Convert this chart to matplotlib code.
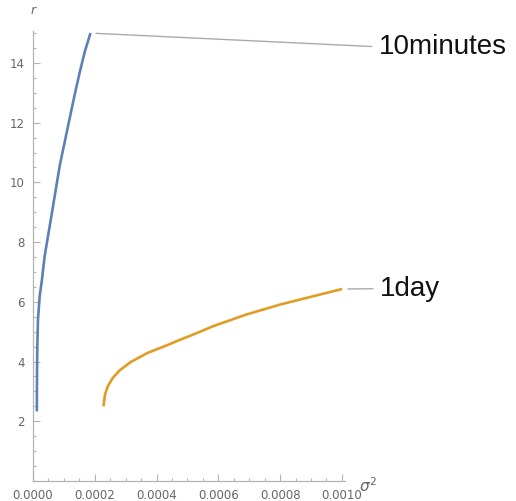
import matplotlib.pyplot as plt
from matplotlib.ticker import MultipleLocator, FixedLocator, FuncFormatter

# variance vs r, two horizons
r_10min = [2.33, 3.0, 3.8, 4.5, 5.4, 6.18, 6.74, 7.52, 8.19, 8.98, 9.81,
           10.59, 11.37, 12.16, 12.94, 13.72, 14.39, 15.0]
var_10min = [0.0000125, 0.0000127, 0.0000132, 0.0000140, 0.0000161, 0.0000215,
             0.0000290, 0.0000376, 0.0000484, 0.0000613, 0.0000745, 0.0000871,
             0.000103, 0.000119, 0.000135, 0.000152, 0.000168, 0.000186]

r_1day = [2.50, 2.89, 3.17, 3.45, 3.70, 3.99, 4.29, 4.51, 4.73, 4.96,
          5.18, 5.57, 5.90, 6.18, 6.43]
var_1day = [0.000228, 0.000233, 0.000242, 0.000258, 0.000280, 0.000317,
             0.000371, 0.000425, 0.000476, 0.000532, 0.000582, 0.000689,
             0.000797, 0.000904, 0.001001]

labels = ['10minutes', '1day']
label_pos = [(0.001119, 14.54), (0.001123, 6.44)]

blue = '#5E81B5'
orange = '#E19C24'
axis_gray = '#b3b3b3'
text_gray = '#666666'

fig = plt.figure(figsize=(5.16, 5.01), dpi=100)
ax = fig.add_axes([33 / 516, 20 / 501, 312 / 516, 450 / 501])

ax.plot(var_10min, r_10min, color=blue, lw=1.9, solid_capstyle='butt')
ax.plot(var_1day, r_1day, color=orange, lw=1.9, solid_capstyle='butt')

for (xs, ys), text, pos in zip([(var_10min, r_10min), (var_1day, r_1day)], labels, label_pos):
    ax.annotate(text, xy=(xs[-1], ys[-1]), xytext=pos, textcoords='data',
                ha='left', va='center', fontsize=20, family='Liberation Sans', color='#111111',
                annotation_clip=False,
                arrowprops=dict(arrowstyle='-', color='#aaaaaa', lw=1.0,
                                relpos=(0, 0.5), shrinkA=3, shrinkB=4))

ax.set_xlim(0, 0.00101)
ax.set_ylim(0, 15.07)

for side in ['top', 'right']:
    ax.spines[side].set_visible(False)
for side in ['left', 'bottom']:
    ax.spines[side].set_color(axis_gray)
    ax.spines[side].set_linewidth(0.9)
    ax.spines[side].set_position(('data', 0))

ax.xaxis.set_major_locator(FixedLocator([0, 0.0002, 0.0004, 0.0006, 0.0008, 0.0010]))
ax.xaxis.set_minor_locator(MultipleLocator(0.00005))
ax.xaxis.set_major_formatter(FuncFormatter(lambda v, p: f'{v:.4f}'))
ax.yaxis.set_major_locator(FixedLocator([2, 4, 6, 8, 10, 12, 14]))
ax.yaxis.set_minor_locator(MultipleLocator(0.5))

ax.tick_params(which='both', direction='in', color=axis_gray, width=0.8,
               labelcolor=text_gray, labelsize=8.5)
ax.tick_params(which='major', length=5)
ax.tick_params(which='minor', length=2.5)
ax.tick_params(axis='x', pad=6)
ax.tick_params(axis='y', pad=6)

ax.text(0, 1.045, 'r', transform=ax.transAxes, ha='center', va='center',
        fontsize=9, style='italic', color=text_gray)
ax.text(1.075, -0.01, r'$\sigma^2$', transform=ax.transAxes, ha='center', va='center',
        fontsize=11, color=text_gray)

fig.savefig('out.png', dpi=100)
